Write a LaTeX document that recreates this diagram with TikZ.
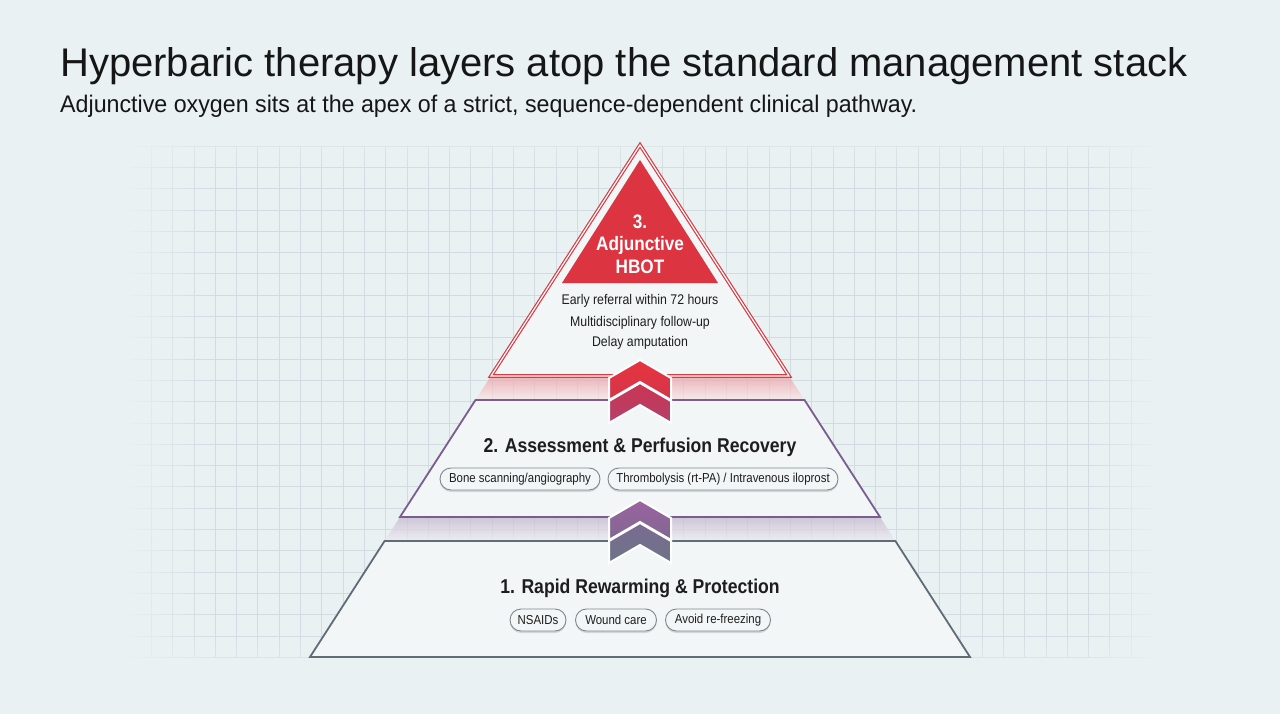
\documentclass[tikz,border=0pt]{standalone}
\usepackage{fontspec}
\setmainfont{Liberation Sans}
\newfontfamily\condfont{Liberation Sans}[FakeStretch=0.88]
\newfontfamily\subfont{Liberation Sans}[FakeStretch=0.968]
\usetikzlibrary{shadows,fadings}
\definecolor{bg}{HTML}{E9F1F3}
\definecolor{gridc}{HTML}{D0DCE0}
\definecolor{titlec}{HTML}{161616}
\definecolor{redline}{HTML}{D93A44}
\definecolor{redfill}{HTML}{DC3440}
\definecolor{chevAtop}{HTML}{E8343F}
\definecolor{chevAbot}{HTML}{D3354A}
\definecolor{chevBtop}{HTML}{CC3452}
\definecolor{chevBbot}{HTML}{B2416C}
\definecolor{chevCtop}{HTML}{9B63A2}
\definecolor{chevCbot}{HTML}{80688F}
\definecolor{chevDtop}{HTML}{7C6A92}
\definecolor{chevDbot}{HTML}{6A7586}
\definecolor{purpline}{HTML}{7B5C8E}
\definecolor{slateline}{HTML}{606C76}
\definecolor{layerfill}{HTML}{F2F6F7}
\definecolor{pillline}{HTML}{80878C}
\definecolor{textc}{HTML}{1E1E1E}
\tikzfading[name=fadeleft, left color=transparent!0, right color=transparent!100]
\tikzfading[name=faderight, left color=transparent!100, right color=transparent!0]
\tikzfading[name=fadetop, top color=transparent!0, bottom color=transparent!100]
\tikzfading[name=fadebottom, top color=transparent!100, bottom color=transparent!0]
\tikzset{
  gridline/.style={gridc, line width=0.7pt},
  layer/.style={fill=layerfill, line width=1.8pt, line join=miter},
  pill/.style={draw=pillline, line width=0.9pt, fill=layerfill, rounded corners=11pt,
    minimum height=22pt, inner sep=0pt, text=textc,
    font=\condfont\fontsize{13}{15}\selectfont,
    drop shadow={shadow xshift=0pt, shadow yshift=-2pt, opacity=0.22, fill=black!60}},
  layertitle/.style={font=\condfont\bfseries\fontsize{20}{24}\selectfont, text=textc, anchor=base, inner sep=0pt},
  bodytext/.style={font=\condfont\fontsize{14}{16}\selectfont, text=textc, anchor=base, inner sep=0pt},
  hbottext/.style={font=\condfont\bfseries\fontsize{19.5}{22}\selectfont, text=white, anchor=base, inner sep=0pt},
  chev/.style={draw=white, line width=2pt, line join=miter}
}
\newcommand{\chevpath}[1]{(640,#1) -- (671,#1+18) -- (671,#1+40) -- (640,#1+22) -- (609,#1+40) -- (609,#1+18) -- cycle}
\begin{document}
\begin{tikzpicture}[x=1pt,y=-1pt]
\useasboundingbox (0,0) rectangle (1280,714);
\fill[bg] (0,0) rectangle (1280,714);
% grid
\foreach \i in {1,...,47} \draw[gridline] ({130+\i*21.3},146) -- ({130+\i*21.3},657.2);
\foreach \j in {0,...,24} \draw[gridline] (130,{146+\j*21.3}) -- (1152.4,{146+\j*21.3});
% grid edge fades
\fill[bg, path fading=fadeleft] (120,140) rectangle (215,665);
\fill[bg, path fading=faderight] (1085,140) rectangle (1160,665);
\fill[bg, path fading=fadetop, fill opacity=0.6] (120,140) rectangle (1160,175);
\fill[bg, path fading=fadebottom, fill opacity=0.6] (120,630) rectangle (1160,665);
% title
\node[anchor=base west, inner sep=0pt, text=titlec, font=\fontsize{40}{48}\selectfont] (title) at (60,77) {Hyperbaric therapy layers atop the standard management stack};
\node[anchor=base west, inner sep=0pt, text=titlec, font=\subfont\fontsize{24}{29}\selectfont] (subtitle) at (60,113) {Adjunctive oxygen sits at the apex of a strict, sequence-dependent clinical pathway.};
% bands
\shade[top color=redline!50, bottom color=redline!12, opacity=0.7] (491,376) -- (789,376) -- (804.5,400) -- (475.5,400) -- cycle;
\shade[top color=purpline!45, bottom color=purpline!12, opacity=0.7] (400,517) -- (880,517) -- (895.4,541) -- (384.6,541) -- cycle;
% bottom layer
\draw[layer, draw=slateline] (384.6,541) -- (895.4,541) -- (970,657) -- (310,657) -- cycle;
% middle layer
\draw[layer, draw=purpline] (475.5,400) -- (804.5,400) -- (880,517) -- (400,517) -- cycle;
% top triangle
\fill[layerfill] (640,145) -- (789,376) -- (491,376) -- cycle;
\draw[redline, line width=1.2pt, double=white, double distance=1.2pt, line join=miter] (640,145) -- (789,376) -- (491,376) -- cycle;
\fill[redfill] (640,160) -- (718,283) -- (562,283) -- cycle;
% HBOT text
\node[hbottext] (h1) at (640,229) {3.};
\node[hbottext] (h2) at (640,251) {Adjunctive};
\node[hbottext] (h3) at (640,273) {HBOT};
\node[bodytext] (b1) at (640,305) {Early referral within 72 hours};
\node[bodytext] (b2) at (640,326) {Multidisciplinary follow-up};
\node[bodytext] (b3) at (640,346) {Delay amputation};
% chevrons top
\shade[top color=chevAtop, bottom color=chevAbot] \chevpath{360};
\draw[chev] \chevpath{360};
\shade[top color=chevBtop, bottom color=chevBbot] \chevpath{383};
\draw[chev] \chevpath{383};
% chevrons bottom
\shade[top color=chevCtop, bottom color=chevCbot] \chevpath{500};
\draw[chev] \chevpath{500};
\shade[top color=chevDtop, bottom color=chevDbot] \chevpath{523};
\draw[chev] \chevpath{523};
% layer titles
\node[layertitle] (l2) at (640,452) {2. Assessment \& Perfusion Recovery};
\node[layertitle] (l1) at (640,593) {1. Rapid Rewarming \& Protection};
% pills
\node[pill, minimum width=160pt] (p1) at (520,479) {Bone scanning/angiography};
\node[pill, minimum width=230pt] (p2) at (723,479) {Thrombolysis (rt-PA) / Intravenous iloprost};
\node[pill, minimum width=56pt] (p3) at (538,620) {NSAIDs};
\node[pill, minimum width=81pt] (p4) at (616,620) {Wound care};
\node[pill, minimum width=105pt] (p5) at (718,620) {Avoid re-freezing};
\end{tikzpicture}
\end{document}
